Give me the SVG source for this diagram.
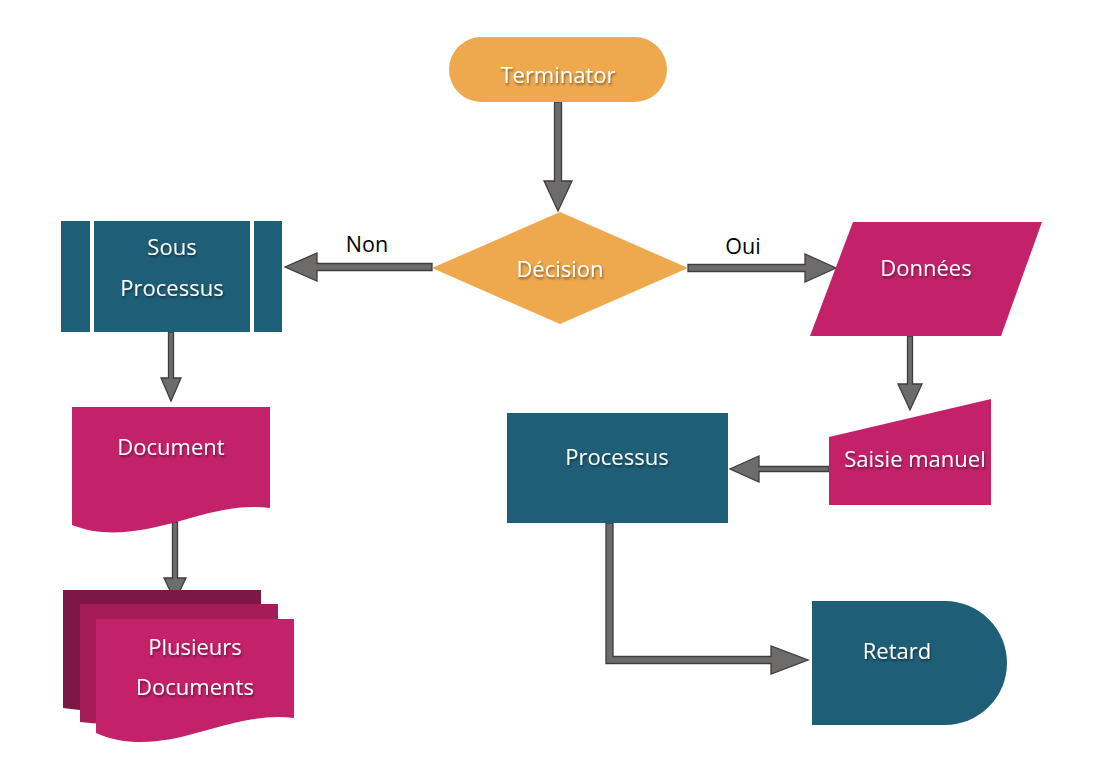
<svg xmlns="http://www.w3.org/2000/svg" width="1106" height="771" viewBox="0 0 1106 771">
<defs>
<filter id="ts" x="-10%" y="-30%" width="120%" height="160%">
<feDropShadow dx="1" dy="2" stdDeviation="1" flood-color="#000" flood-opacity="0.45"/>
</filter>
<style>
.t{font-family:"Open Sans","Noto Sans",sans-serif;font-size:22px;fill:#fff;text-anchor:middle;filter:url(#ts)}
.l{font-family:"Open Sans","Noto Sans",sans-serif;font-size:21.5px;fill:#000;text-anchor:middle}
.or{fill:#EEA84E}
.tl{fill:#1F5E77}
.mg{fill:#C4216B}
.ar{fill:#6E6B6B;stroke:#3E3C3C;stroke-width:1.3;stroke-linejoin:miter}
</style>
</defs>
<rect width="1106" height="771" fill="#fff"/>
<g id="connectors">
<path class="ar" d="M554.5,102 H561.5 V181 H572 L558,211 L544,181 H554.5 Z"/>
<path class="ar" d="M432,263.5 V270.5 H317 V281 L285,267 L317,253 V263.5 Z"/>
<text class="l" x="367" y="252">Non</text>
<path class="ar" d="M688,264.5 V271.5 H805 V282 L836,268 L805,254 V264.5 Z"/>
<text class="l" x="743" y="254">Oui</text>
<path class="ar" d="M168.5,332 H173.5 V378 H181 L171,401 L161,378 H168.5 Z"/>
<path class="ar" d="M172.5,522 H177.5 V578 H186 L175,601 L164,578 H172.5 Z"/>
<path class="ar" d="M907.5,336 H912.5 V384 H922 L910,410 L898,384 H907.5 Z"/>
<path class="ar" d="M829,466.5 V471.5 H759 V482 L730,469 L759,456 V466.5 Z"/>
<path class="ar" d="M606,523 H613 V656.5 H771 V646 L808,660 L771,674 V663.5 H606 Z"/>
</g>
<g id="terminator">
<rect class="or" x="449" y="37" width="218" height="65" rx="32.5"/>
<text class="t" x="558" y="83">Terminator</text>
</g>
<g id="decision">
<polygon class="or" points="560,212 688,268 560,324 432,268"/>
<text class="t" x="560" y="277">Décision</text>
</g>
<g id="sous-processus">
<rect class="tl" x="61" y="221" width="29" height="111"/>
<rect class="tl" x="94" y="221" width="156" height="111"/>
<rect class="tl" x="254" y="221" width="28" height="111"/>
<text class="t" x="172" y="255">Sous</text>
<text class="t" x="172" y="296">Processus</text>
</g>
<g id="document">
<path class="mg" d="M72,407 H270 V508 C240,504 210,512 180,521 C140,532 105,538 72,525 Z"/>
<text class="t" x="171" y="455">Document</text>
</g>
<g id="plusieurs-documents">
<path fill="#7D1745" d="M63,590 H261 V696 C220,700 150,720 63,708 Z"/>
<path fill="#A41D58" d="M80,604 H278 V708 C240,712 170,732 80,722 Z"/>
<path class="mg" d="M96,619 H294 V718 C265,714 235,722 200,732 C165,742 130,748 96,733 Z"/>
<text class="t" x="195" y="655">Plusieurs</text>
<text class="t" x="195" y="695">Documents</text>
</g>
<g id="donnees">
<polygon class="mg" points="853,222 1042,222 1001,336 810,336"/>
<text class="t" x="926" y="276">Données</text>
</g>
<g id="saisie-manuel">
<polygon class="mg" points="829,437 991,399 991,505 829,505"/>
<text class="t" x="915" y="467">Saisie manuel</text>
</g>
<g id="processus">
<rect class="tl" x="507" y="413" width="221" height="110"/>
<text class="t" x="617" y="465">Processus</text>
</g>
<g id="retard">
<path class="tl" d="M812,601 H945 A62,62 0 0 1 945,725 H812 Z"/>
<text class="t" x="897" y="659">Retard</text>
</g>
</svg>
